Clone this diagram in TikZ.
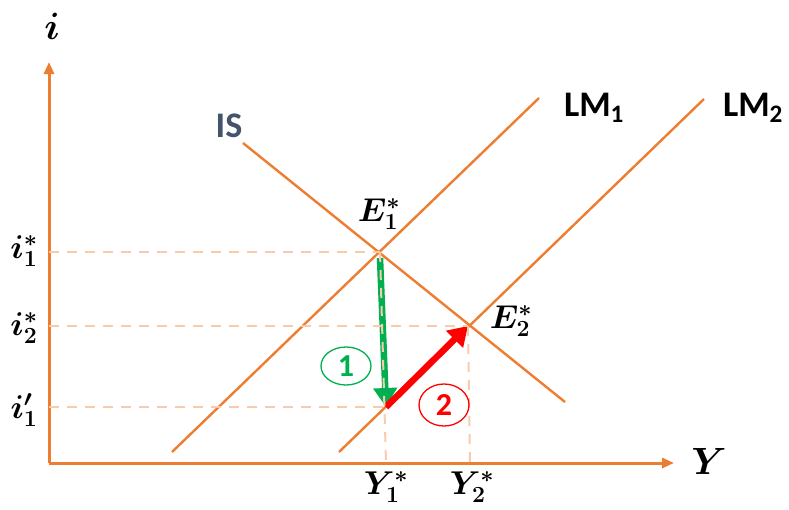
\RequirePackage{fix-cm}
\documentclass[tikz,border=0pt]{standalone}
\usepackage[no-math]{fontspec}
\setmainfont{Carlito}
\usepackage{amsmath}
\usepackage{bm}
\usetikzlibrary{arrows.meta,shapes.geometric}
\definecolor{lineorange}{RGB}{237,125,49}
\definecolor{dashorange}{RGB}{248,203,173}
\definecolor{islabel}{RGB}{68,84,106}
\definecolor{stepgreen}{RGB}{0,176,80}
\definecolor{stepred}{RGB}{255,0,0}

\begin{document}
\begin{tikzpicture}[
  x=1pt, y=-1pt,
  axis/.style={draw=lineorange, line width=3pt, -{Triangle[length=12pt, width=10pt]}},
  curve/.style={draw=lineorange, line width=2.4pt},
  guide/.style={draw=dashorange, line width=2pt, dash pattern=on 10pt off 8pt},
  shiftarr/.style={line width=6.5pt, -{Triangle[length=19pt, width=23pt]}},
  lab/.style={font=\fontsize{33}{36}\selectfont, inner sep=0pt},
  curvelab/.style={font=\fontsize{36}{40}\selectfont\bfseries, inner sep=0pt},
  stepmark/.style={ellipse, draw, line width=1.3pt, minimum width=50pt, minimum height=38pt,
    inner sep=0pt, font=\fontsize{32}{34}\selectfont\bfseries}]
\useasboundingbox (0,0) rectangle (789,509);
% axes
\coordinate (O) at (49,463);
\coordinate (itop) at (49,62);
\coordinate (Yend) at (674,463);
\draw[axis] (O) -- (itop);
\draw[axis] (O) -- (Yend);
\node[lab, font=\fontsize{38}{40}\selectfont] (ilab) at (52,26) {$\bm{i}$};
\node[lab, font=\fontsize{38}{40}\selectfont] (Ylab) at (709,461) {$\bm{Y}$};
% curves
\coordinate (is1) at (243,143);
\coordinate (is2) at (565,402);
\coordinate (lma1) at (172,452);
\coordinate (lma2) at (539,98);
\coordinate (lmb1) at (339,452);
\coordinate (lmb2) at (704,99);
\draw[curve] (is1) -- (is2);
\draw[curve] (lma1) -- (lma2);
\draw[curve] (lmb1) -- (lmb2);
\node[curvelab, text=islabel] (islab) at (229,126) {IS};
\node[curvelab] (lm1lab) at (594,108) {LM\textsubscript{1}};
\node[curvelab] (lm2lab) at (753,108) {LM\textsubscript{2}};
% equilibria
\coordinate (E1) at (380,252);
\coordinate (E2) at (468,326);
\coordinate (A) at (386,407);
\coordinate (i1) at (49,252);
\coordinate (i2) at (49,326);
\coordinate (i3) at (49,407);
\coordinate (Y1) at (386,463);
\coordinate (Y2) at (470,463);
% shifts
\draw[shiftarr, stepgreen] (380,258) -- (A);
\draw[shiftarr, stepred] (A) -- (E2);
% guides
\draw[guide] (i1) -- (E1);
\draw[guide] (i2) -- (E2);
\draw[guide] (i3) -- (A);
\draw[guide] (E1) -- (Y1);
\draw[guide] (E2) -- (Y2);
% labels
\node[lab] (E1lab) at (379,214) {$\bm{E^*_1}$};
\node[lab] (E2lab) at (511,321) {$\bm{E^*_2}$};
\node[lab] (i1lab) at (24,251) {$\bm{i^*_1}$};
\node[lab] (i2lab) at (24,328) {$\bm{i^*_2}$};
\node[lab] (i3lab) at (24,410) {$\bm{i'_1}$};
\node[lab] (Y1lab) at (386,487) {$\bm{Y^*_1}$};
\node[lab] (Y2lab) at (472,487) {$\bm{Y^*_2}$};
\node[stepmark, stepgreen] (one) at (346,366) {1};
\node[stepmark, stepred, minimum height=42pt] (two) at (444,405) {2};
\end{tikzpicture}
\end{document}
